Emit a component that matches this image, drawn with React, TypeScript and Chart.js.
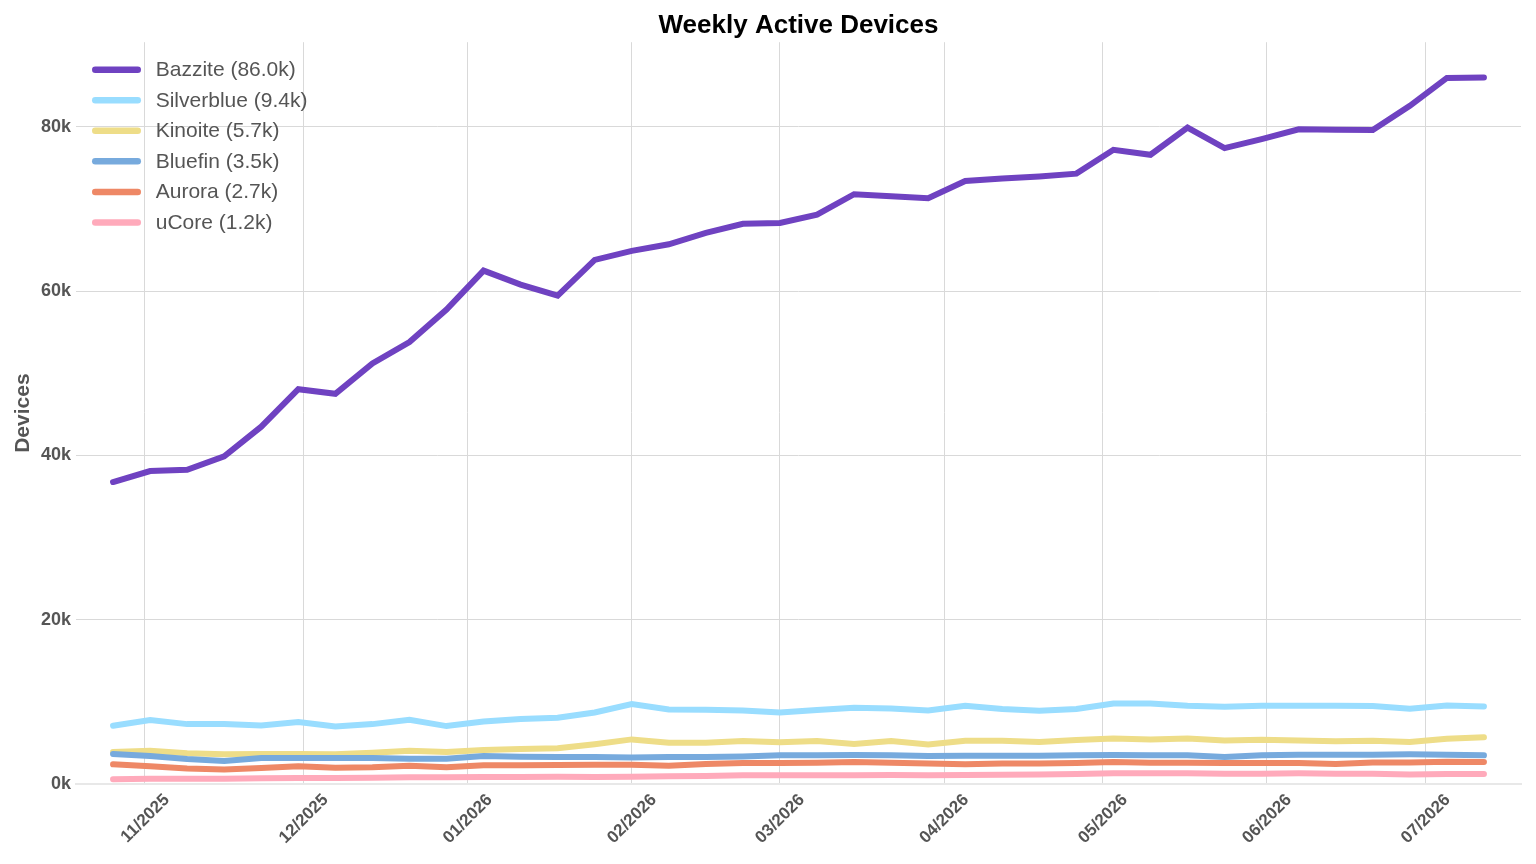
import { useEffect, useRef } from 'react'
import { Chart, registerables } from 'chart.js'

Chart.register(...registerables)

const FONT = "'Liberation Sans', Arial, sans-serif"

// week starts (Sundays)
const weeks = [
  '2025-10-26', '2025-11-02', '2025-11-09', '2025-11-16', '2025-11-23', '2025-11-30',
  '2025-12-07', '2025-12-14', '2025-12-21', '2025-12-28', '2026-01-04', '2026-01-11',
  '2026-01-18', '2026-01-25', '2026-02-01', '2026-02-08', '2026-02-15', '2026-02-22',
  '2026-03-01', '2026-03-08', '2026-03-15', '2026-03-22', '2026-03-29', '2026-04-05',
  '2026-04-12', '2026-04-19', '2026-04-26', '2026-05-03', '2026-05-10', '2026-05-17',
  '2026-05-24', '2026-05-31', '2026-06-07', '2026-06-14', '2026-06-21', '2026-06-28',
  '2026-07-05', '2026-07-12',
]

const monthTicks = [
  '2025-11-01', '2025-12-01', '2026-01-01', '2026-02-01', '2026-03-01',
  '2026-04-01', '2026-05-01', '2026-06-01', '2026-07-01',
]
const xMin = '2025-10-19'
const xMax = '2026-07-19'

const yTicks = [0, 20000, 40000, 60000, 80000]
const yMax = 90300

const bazzite = [
  36760, 38100, 38260, 39900, 43500, 48060, 47500, 51200, 53800, 57750,
  62500, 60800, 59450, 63800, 64900, 65700, 67100, 68200, 68300, 69300,
  71800, 71550, 71300, 73400, 73700, 73950, 74300, 77200, 76600, 79900,
  77400, 78500, 79700, 79650, 79600, 82550, 85950, 86000,
]
const silverblue = [
  7090, 7780, 7290, 7290, 7130, 7540, 7010, 7290, 7820, 7050,
  7620, 7900, 8060, 8710, 9730, 9080, 9040, 8960, 8710, 9000,
  9280, 9200, 8960, 9520, 9120, 8910, 9120, 9810, 9810, 9520,
  9400, 9520, 9520, 9520, 9480, 9160, 9560, 9430,
]
const kinoite = [
  3890, 4050, 3730, 3610, 3650, 3650, 3610, 3810, 4050, 3890,
  4130, 4260, 4340, 4850, 5430, 5020, 5020, 5230, 5070, 5230,
  4860, 5230, 4820, 5270, 5270, 5110, 5350, 5550, 5430, 5550,
  5310, 5390, 5310, 5190, 5270, 5110, 5510, 5680,
]
const bluefin = [
  3650, 3400, 3040, 2800, 3160, 3160, 3160, 3160, 3080, 3080,
  3400, 3320, 3280, 3280, 3240, 3280, 3280, 3360, 3490, 3490,
  3530, 3490, 3400, 3440, 3440, 3440, 3490, 3530, 3490, 3490,
  3280, 3490, 3570, 3570, 3570, 3610, 3570, 3490,
]
const aurora = [
  2390, 2150, 1900, 1780, 1950, 2150, 1990, 2030, 2230, 2030,
  2270, 2270, 2310, 2350, 2350, 2230, 2430, 2550, 2550, 2590,
  2670, 2590, 2510, 2390, 2510, 2510, 2550, 2670, 2590, 2590,
  2550, 2550, 2550, 2430, 2630, 2630, 2710, 2670,
]
const ucore = [
  570, 650, 650, 650, 690, 730, 730, 770, 810, 810,
  850, 850, 890, 850, 890, 930, 970, 1050, 1050, 1050,
  1050, 1090, 1050, 1090, 1130, 1170, 1220, 1300, 1300, 1300,
  1260, 1260, 1300, 1260, 1260, 1170, 1220, 1220,
]

const seriesNames = ['Bazzite', 'Silverblue', 'Kinoite', 'Bluefin', 'Aurora', 'uCore']
const seriesValues = [bazzite, silverblue, kinoite, bluefin, aurora, ucore]
const seriesColors = ['#6f42c1', '#99ddff', '#eedd88', '#77aadd', '#ee8866', '#ffaabb']

const toTime = (s: string) => {
  const [y, m, d] = s.split('-').map(Number)
  return Date.UTC(y, m - 1, d)
}

const legendLabel = (name: string, values: number[]) =>
  `${name} (${(values[values.length - 1] / 1000).toFixed(1)}k)`

// legend drawn inside the plot, top-left
const insideLegend = {
  id: 'insideLegend',
  afterDatasetsDraw(chart: Chart) {
    const { ctx, chartArea } = chart
    ctx.save()
    chart.data.datasets.forEach((ds: any, i: number) => {
      const y = chartArea.top + 27.5 + i * 30.55
      const x0 = chartArea.left + 16
      ctx.strokeStyle = ds.borderColor
      ctx.lineWidth = 6.5
      ctx.lineCap = 'round'
      ctx.beginPath()
      ctx.moveTo(x0 + 3.25, y)
      ctx.lineTo(x0 + 45.75, y)
      ctx.stroke()
      ctx.fillStyle = '#555555'
      ctx.font = `21px ${FONT}`
      ctx.textAlign = 'left'
      ctx.textBaseline = 'middle'
      ctx.fillText(ds.label, chartArea.left + 79.7, y + 0.5)
    })
    ctx.restore()
  },
}

export default function App() {
  const canvasRef = useRef<HTMLCanvasElement>(null)

  useEffect(() => {
    if (!canvasRef.current) return
    Chart.defaults.font.family = FONT

    const chart = new Chart(canvasRef.current, {
      type: 'line',
      data: {
        datasets: seriesNames.map((name, i) => ({
          label: legendLabel(name, seriesValues[i]),
          data: weeks.map((w, j) => ({ x: toTime(w), y: seriesValues[i][j] })),
          borderColor: seriesColors[i],
          backgroundColor: seriesColors[i],
          borderWidth: 6,
          borderCapStyle: 'round',
          pointRadius: 0,
          pointHoverRadius: 0,
          tension: 0,
          fill: false,
          order: seriesNames.length - i,
        })),
      },
      options: {
        animation: false,
        responsive: true,
        maintainAspectRatio: false,
        layout: { padding: { left: 0, right: 15, top: 0, bottom: 0 } },
        plugins: {
          legend: { display: false },
          tooltip: { enabled: false },
          title: {
            display: true,
            text: 'Weekly Active Devices',
            color: '#000000',
            fullSize: false,
            font: { size: 26, weight: 'bold' },
            padding: { top: 10.5, bottom: 0.5 },
          },
        },
        scales: {
          x: {
            type: 'linear',
            min: toTime(xMin),
            max: toTime(xMax),
            afterBuildTicks: (s: any) => {
              s.ticks = monthTicks.map((m) => ({ value: toTime(m) }))
            },
            afterFit: (s: any) => {
              s.height = 80
            },
            grid: { color: '#d9d9d9', lineWidth: 1, drawTicks: false },
            border: { display: true, color: '#e8e8e8', width: 2 },
            ticks: {
              autoSkip: false,
              minRotation: 45,
              maxRotation: 45,
              labelOffset: 22,
              padding: 6,
              color: '#555555',
              font: { size: 17, weight: 'bold' },
              callback: (v: any) => {
                const d = new Date(Number(v))
                return `${String(d.getUTCMonth() + 1).padStart(2, '0')}/${d.getUTCFullYear()}`
              },
            },
          },
          y: {
            min: 0,
            max: yMax,
            afterBuildTicks: (s: any) => {
              s.ticks = yTicks.map((v) => ({ value: v }))
            },
            afterFit: (s: any) => {
              s.width = 76
            },
            grid: { color: '#d9d9d9', lineWidth: 1, drawTicks: false },
            border: { display: false },
            ticks: {
              padding: 5,
              color: '#555555',
              font: { size: 18, weight: 'bold' },
              callback: (v: any) => `${Number(v) / 1000}k`,
            },
            title: {
              display: true,
              text: 'Devices',
              color: '#555555',
              font: { size: 21, weight: 'bold' },
              padding: { top: 11, bottom: 0 },
            },
          },
        },
      },
      plugins: [insideLegend],
    })

    return () => chart.destroy()
  }, [])

  return (
    <div style={{ position: 'fixed', left: 0, top: 0, width: '100vw', height: '100vh', background: '#ffffff' }}>
      <canvas ref={canvasRef} />
    </div>
  )
}
